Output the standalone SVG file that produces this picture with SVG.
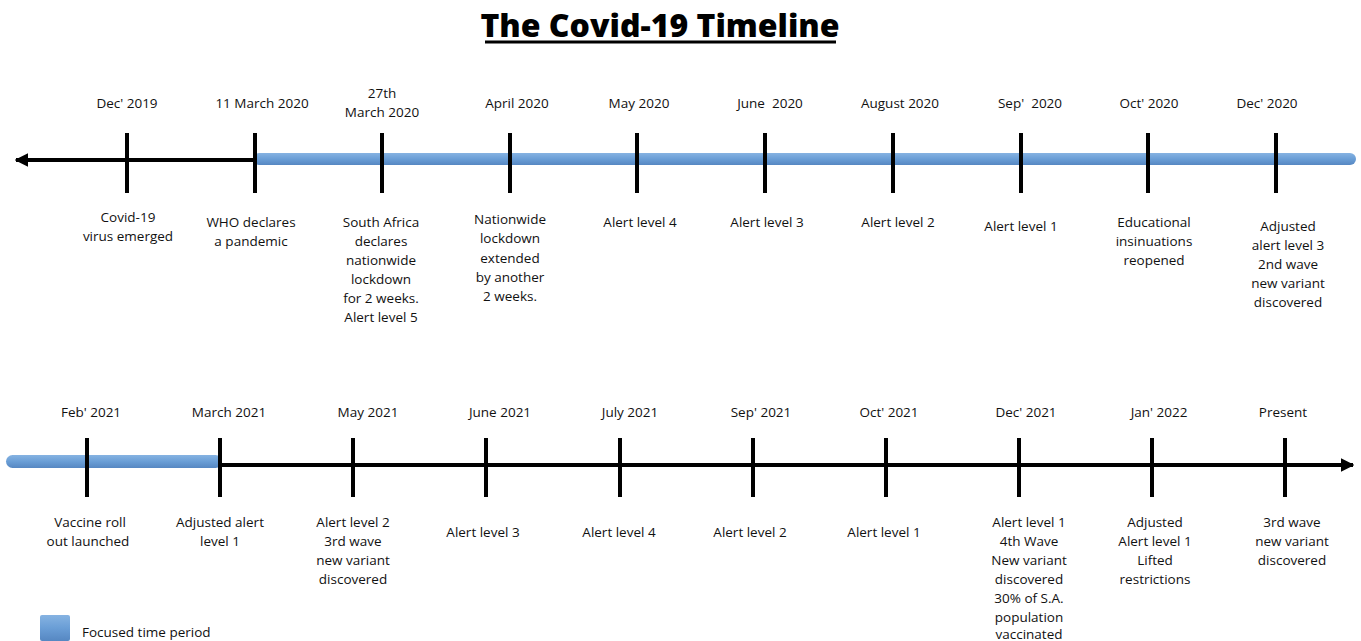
<svg xmlns="http://www.w3.org/2000/svg" width="1361" height="641" viewBox="0 0 1361 641">
<defs>
<linearGradient id="blue" x1="0" y1="0" x2="0" y2="1">
<stop offset="0" stop-color="#86b3e2"/>
<stop offset="0.5" stop-color="#6a9ed6"/>
<stop offset="1" stop-color="#5687c2"/>
</linearGradient>
<marker id="arr" viewBox="0 0 10 10" refX="9" refY="5" markerWidth="3.4" markerHeight="3.6" orient="auto-start-reverse" markerUnits="strokeWidth">
<path d="M0,0 L10,5 L0,10 Z" fill="#000"/>
</marker>
<style>
text{font-family:"Open Sans","Liberation Sans",sans-serif;font-size:13.5px;fill:#111;text-anchor:middle}
.title{font-size:32px;font-weight:800;fill:#000}
.axis{stroke:#000;stroke-width:4;fill:none}
.tick{stroke:#000;stroke-width:4}
.bar{fill:url(#blue)}
.lg{text-anchor:start}
</style>
</defs>
<g id="title">
<text class="title" x="660" y="37">The Covid-19 Timeline</text>
<line x1="485" y1="42" x2="836" y2="42" stroke="#000" stroke-width="3"/>
</g>
<g id="connectors">
<line class="axis" x1="255" y1="160" x2="16" y2="160" marker-end="url(#arr)"/>
<rect class="bar" x="253" y="153" width="1103" height="12" rx="6"/>
<line class="axis" x1="220" y1="465" x2="1353" y2="465" marker-end="url(#arr)"/>
<rect class="bar" x="6" y="455" width="216" height="13" rx="6.5"/>
<g class="ticks">
<line class="tick" x1="127" y1="133" x2="127" y2="193"/>
<line class="tick" x1="255" y1="133" x2="255" y2="193"/>
<line class="tick" x1="382" y1="133" x2="382" y2="193"/>
<line class="tick" x1="510" y1="133" x2="510" y2="193"/>
<line class="tick" x1="637" y1="133" x2="637" y2="193"/>
<line class="tick" x1="765" y1="133" x2="765" y2="193"/>
<line class="tick" x1="893" y1="133" x2="893" y2="193"/>
<line class="tick" x1="1021" y1="133" x2="1021" y2="193"/>
<line class="tick" x1="1148" y1="133" x2="1148" y2="193"/>
<line class="tick" x1="1276" y1="133" x2="1276" y2="193"/>
<line class="tick" x1="87" y1="438" x2="87" y2="497"/>
<line class="tick" x1="220" y1="438" x2="220" y2="497"/>
<line class="tick" x1="353" y1="438" x2="353" y2="497"/>
<line class="tick" x1="486" y1="438" x2="486" y2="497"/>
<line class="tick" x1="620" y1="438" x2="620" y2="497"/>
<line class="tick" x1="753" y1="438" x2="753" y2="497"/>
<line class="tick" x1="886" y1="438" x2="886" y2="497"/>
<line class="tick" x1="1019" y1="438" x2="1019" y2="497"/>
<line class="tick" x1="1152" y1="438" x2="1152" y2="497"/>
<line class="tick" x1="1285" y1="438" x2="1285" y2="497"/>
</g>
</g>
<g id="n-dec2019"><text x="127" y="108">Dec' 2019</text><text x="128" y="222">Covid-19</text><text x="128" y="241">virus emerged</text></g>
<g id="n-mar2020"><text x="262" y="108">11 March 2020</text><text x="251" y="227">WHO declares</text><text x="251" y="246">a pandemic</text></g>
<g id="n-27mar2020"><text x="382" y="98">27th</text><text x="382" y="117">March 2020</text><text x="381" y="227">South Africa</text><text x="381" y="246">declares</text><text x="381" y="265">nationwide</text><text x="381" y="284">lockdown</text><text x="381" y="303">for 2 weeks.</text><text x="381" y="322">Alert level 5</text></g>
<g id="n-apr2020"><text x="517" y="108">April 2020</text><text x="510" y="224">Nationwide</text><text x="510" y="243">lockdown</text><text x="510" y="263">extended</text><text x="510" y="282">by another</text><text x="510" y="301">2 weeks.</text></g>
<g id="n-may2020"><text x="639" y="108">May 2020</text><text x="640" y="227">Alert level 4</text></g>
<g id="n-jun2020"><text x="770" y="108" xml:space="preserve">June  2020</text><text x="767" y="227">Alert level 3</text></g>
<g id="n-aug2020"><text x="900" y="108">August 2020</text><text x="898" y="227">Alert level 2</text></g>
<g id="n-sep2020"><text x="1030" y="108" xml:space="preserve">Sep'  2020</text><text x="1021" y="231">Alert level 1</text></g>
<g id="n-oct2020"><text x="1149" y="108">Oct' 2020</text><text x="1154" y="227">Educational</text><text x="1154" y="246">insinuations</text><text x="1154" y="265">reopened</text></g>
<g id="n-dec2020"><text x="1267" y="108">Dec' 2020</text><text x="1288" y="231">Adjusted</text><text x="1288" y="250">alert level 3</text><text x="1288" y="269">2nd wave</text><text x="1288" y="288">new variant</text><text x="1288" y="307">discovered</text></g>
<g id="n-feb2021"><text x="91" y="417">Feb' 2021</text><text x="90" y="527">Vaccine roll</text><text x="88" y="546">out launched</text></g>
<g id="n-mar2021"><text x="229" y="417">March 2021</text><text x="220" y="527">Adjusted alert</text><text x="220" y="546">level 1</text></g>
<g id="n-may2021"><text x="368" y="417">May 2021</text><text x="353" y="527">Alert level 2</text><text x="353" y="546">3rd wave</text><text x="353" y="565">new variant</text><text x="353" y="584">discovered</text></g>
<g id="n-jun2021"><text x="500" y="417">June 2021</text><text x="483" y="537">Alert level 3</text></g>
<g id="n-jul2021"><text x="630" y="417">July 2021</text><text x="619" y="537">Alert level 4</text></g>
<g id="n-sep2021"><text x="761" y="417">Sep' 2021</text><text x="750" y="537">Alert level 2</text></g>
<g id="n-oct2021"><text x="889" y="417">Oct' 2021</text><text x="884" y="537">Alert level 1</text></g>
<g id="n-dec2021"><text x="1026" y="417">Dec' 2021</text><text x="1029" y="527">Alert level 1</text><text x="1029" y="546">4th Wave</text><text x="1029" y="565">New variant</text><text x="1029" y="584">discovered</text><text x="1029" y="603">30% of S.A.</text><text x="1029" y="622">population</text><text x="1029" y="639">vaccinated</text></g>
<g id="n-jan2022"><text x="1159" y="417">Jan' 2022</text><text x="1155" y="527">Adjusted</text><text x="1155" y="546">Alert level 1</text><text x="1155" y="565">Lifted</text><text x="1155" y="584">restrictions</text></g>
<g id="n-present"><text x="1283" y="417">Present</text><text x="1292" y="527">3rd wave</text><text x="1292" y="546">new variant</text><text x="1292" y="565">discovered</text></g>
<g id="legend">
<rect class="bar" x="40" y="615" width="30" height="26" rx="2"/>
<text class="lg" x="82" y="637">Focused time period</text>
</g>
</svg>
